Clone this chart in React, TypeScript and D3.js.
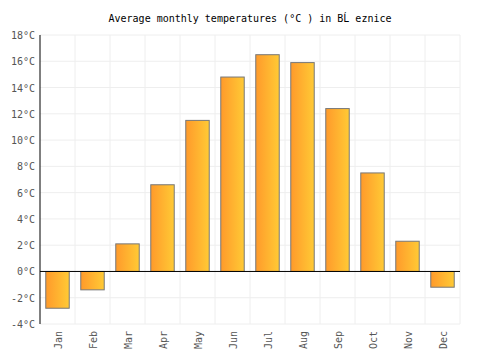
import * as d3 from "d3";

const months = ["Jan", "Feb", "Mar", "Apr", "May", "Jun", "Jul", "Aug", "Sep", "Oct", "Nov", "Dec"];
const temps = [-2.8, -1.4, 2.1, 6.6, 11.5, 14.8, 16.5, 15.9, 12.4, 7.5, 2.3, -1.2];
const yTicks = [-4, -2, 0, 2, 4, 6, 8, 10, 12, 14, 16, 18];

const width = 500;
const height = 350;
const margin = { top: 35, right: 40, bottom: 26, left: 40 };
const font = "'DejaVu Sans Mono', monospace";

export default function App() {
  const innerW = width - margin.left - margin.right;
  const innerH = height - margin.top - margin.bottom;
  const x = d3.scaleBand().domain(months).range([0, innerW]).paddingInner(0.33).paddingOuter(0.165);
  const y = d3.scaleLinear().domain([-4, 18]).range([innerH, 0]);
  const col = innerW / months.length;

  return (
    <svg width={width} height={height} style={{ position: "absolute", left: 0, top: 0 }}>
      <defs>
        <linearGradient id="barGrad" x1="0" x2="1" y1="0" y2="0">
          <stop offset="0%" stopColor="#ff9a2b" />
          <stop offset="100%" stopColor="#ffca35" />
        </linearGradient>
      </defs>
      <text x={width / 2} y={22} textAnchor="middle" fontFamily={font} fontSize={10} fill="#000">
        Average monthly temperatures (°C ) in BĹ eznice
      </text>
      <g transform={`translate(${margin.left},${margin.top})`}>
        {yTicks.map((t) => (
          <g key={t}>
            <line x1={0} x2={innerW} y1={y(t)} y2={y(t)} stroke="#eeeeee" />
            <text x={-5} y={y(t) + 4} textAnchor="end" fontFamily={font} fontSize={10} fill="#555">
              {t}°C
            </text>
          </g>
        ))}
        {months.map((m, i) => (
          <line key={m} x1={(i + 1) * col} x2={(i + 1) * col} y1={0} y2={innerH} stroke="#eeeeee" />
        ))}
        {months.map((m, i) => {
          const v = temps[i];
          const y0 = y(Math.max(0, v));
          const h = Math.abs(y(v) - y(0));
          return (
            <rect key={m} x={x(m)} y={y0} width={x.bandwidth()} height={h} fill="url(#barGrad)" stroke="#777" strokeWidth={1} />
          );
        })}
        <line x1={0} x2={innerW} y1={y(0)} y2={y(0)} stroke="#000" />
        <line x1={0} x2={0} y1={0} y2={innerH} stroke="#000" />
        {months.map((m) => {
          const cx = (x(m) ?? 0) + x.bandwidth() / 2;
          return (
            <text key={m} transform={`translate(${cx + 4},${innerH + 7}) rotate(-90)`} textAnchor="end" fontFamily={font} fontSize={10} fill="#555">
              {m}
            </text>
          );
        })}
      </g>
    </svg>
  );
}
